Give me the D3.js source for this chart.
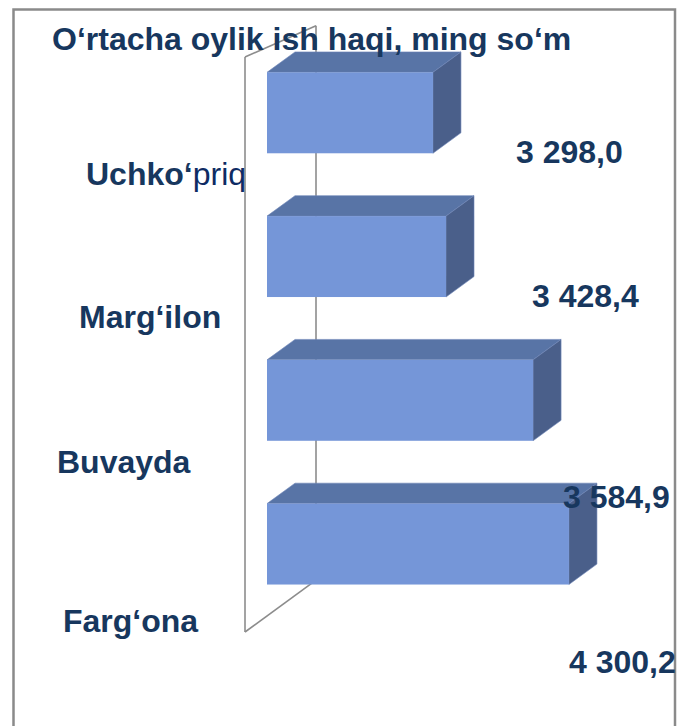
<!DOCTYPE html>
<html>
<head>
<meta charset="utf-8">
<script src="https://cdn.jsdelivr.net/npm/d3@7"></script>
<style>
  html, body { margin: 0; padding: 0; background: #fff; }
  svg { display: block; }
  text { font-family: "Liberation Sans", Arial, sans-serif; }
</style>
</head>
<body>
<svg id="chart" width="677" height="726"></svg>
<script>
// ---- data ----
const title = "O‘rtacha oylik ish haqi, ming so‘m";
const categories = ["Uchko‘priq", "Marg‘ilon", "Buvayda", "Farg‘ona"];
// bar lengths as drawn (in ming so‘m)
const barValues = [3207, 3302, 3935, 4196];
// data labels as printed on the chart
const valueLabels = ["3 298,0", "3 428,4", "3 584,9", "4 300,2"];

// ---- layout (not data) ----
const W = 677, H = 726;
const navy = "#17375E";
const fs = 32;
const wallX = 245, wallTop = 57, wallBottom = 632, depth = 71, ky = 0.73, kyTop = 0.44;
const barZ0 = 22, barZ1 = 50;
const catNudge = [[86, 56], [79, 55], [57, 57], [63, 72]];           // [left x, dy from band centre]
const valNudge = [[516, 163], [532, 307], [563, 508], [569, 673]];   // [left x, baseline]

const svg = d3.select("#chart");
svg.append("rect").attr("width", W).attr("height", H).attr("fill", "#fff");

// outer frame
svg.append("rect")
  .attr("x", 13.5).attr("y", 9.5).attr("width", 661.5).attr("height", 740)
  .attr("fill", "none").attr("stroke", "#8a8a8a").attr("stroke-width", 2.5);

const P = (X, Y, z) => [X + z, Y - z * ky];

const y = d3.scaleBand().domain(categories).range([wallTop, wallBottom])
  .paddingInner(0.437).paddingOuter(0.2185);
const x = d3.scaleLinear().domain([2000, 4400]).range([wallX, wallX + 330]);

// side wall outline
const topBack = [wallX + depth, wallTop - depth * kyTop];
const wallPts = [
  [P(wallX, wallTop, 0), P(wallX, wallBottom, 0)],
  [topBack, P(wallX, wallBottom, depth)],
  [P(wallX, wallBottom, 0), P(wallX, wallBottom, depth)],
  [P(wallX, wallTop, 0), topBack]
];
svg.append("g").selectAll("line").data(wallPts).join("line")
  .attr("x1", d => d[0][0]).attr("y1", d => d[0][1])
  .attr("x2", d => d[1][0]).attr("y2", d => d[1][1])
  .attr("stroke", "#8c8c8c").attr("stroke-width", 1.6);

// 3D bars
const bars = svg.append("g").selectAll("g").data(categories).join("g");
const poly = pts => "M" + pts.map(p => p.join(",")).join("L") + "Z";
bars.each(function(c, i) {
  const g = d3.select(this);
  const yt = y(c), yb = y(c) + y.bandwidth();
  const X0 = x(x.domain()[0]), X1 = x(barValues[i]);
  // top face
  g.append("path").attr("d", poly([P(X0, yt, barZ0), P(X1, yt, barZ0), P(X1, yt, barZ1), P(X0, yt, barZ1)]))
    .attr("fill", "#5874A6").attr("stroke", "#6f87b8").attr("stroke-width", 0.6);
  // side face
  g.append("path").attr("d", poly([P(X1, yt, barZ0), P(X1, yt, barZ1), P(X1, yb, barZ1), P(X1, yb, barZ0)]))
    .attr("fill", "#4A5F8A").attr("stroke", "#6f87b8").attr("stroke-width", 0.6);
  // front face
  const a = P(X0, yt, barZ0), b = P(X1, yb, barZ0);
  g.append("rect").attr("x", a[0]).attr("y", a[1]).attr("width", b[0] - a[0]).attr("height", b[1] - a[1])
    .attr("fill", "#7596D8");
});

// title
svg.append("text")
  .attr("x", 52).attr("y", 50)
  .attr("font-size", fs).attr("font-weight", "bold").attr("fill", navy)
  .text(title);

// category labels
svg.append("g").selectAll("text").data(categories).join("text")
  .attr("x", (c, i) => catNudge[i][0])
  .attr("y", (c, i) => y(c) + y.bandwidth() / 2 + catNudge[i][1])
  .attr("font-size", fs).attr("font-weight", "bold").attr("fill", navy)
  .each(function(c) {
    const t = d3.select(this);
    if (c === "Uchko‘priq") {
      t.append("tspan").text("Uchko‘");
      t.append("tspan").attr("font-weight", "normal").attr("fill", "#0E2B63").text("priq");
    } else {
      t.text(c);
    }
  });

// value labels
svg.append("g").selectAll("text").data(valueLabels).join("text")
  .attr("x", (d, i) => valNudge[i][0]).attr("y", (d, i) => valNudge[i][1])
  .attr("font-size", fs).attr("font-weight", "bold").attr("fill", navy)
  .text(d => d);
</script>
</body>
</html>
